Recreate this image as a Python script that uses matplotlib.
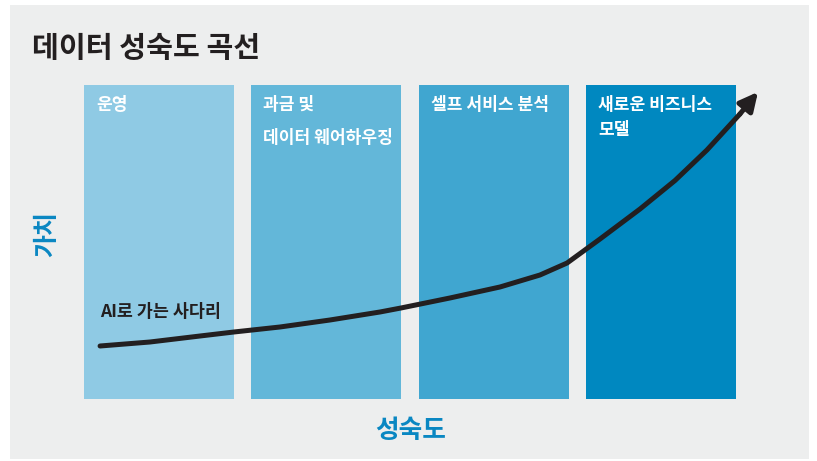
import matplotlib
matplotlib.use("Agg")
import matplotlib.pyplot as plt
from matplotlib.patches import Rectangle

plt.rcParams['font.family'] = ['Noto Sans CJK KR', 'DejaVu Sans']

# ---- data ----
title = "데이터 성숙도 곡선"
stage_lines = [["운영"], ["과금 및", "데이터 웨어하우징"], ["셀프 서비스 분석"], ["새로운 비즈니스", "모델"]]
stage_colors = ["#8fcae4", "#63b7d9", "#40a6d0", "#0088c0"]
# maturity (x, stage units) and value (y) along the curve
curve_x = [0.096, 0.394, 0.693, 0.896, 1.171, 1.470, 1.769, 1.894, 2.187,
           2.486, 2.725, 2.887, 3.084, 3.323, 3.532, 3.723, 3.920]
curve_y = [1.688, 1.815, 2.006, 2.134, 2.293, 2.516, 2.771, 2.898, 3.217,
           3.567, 3.949, 4.331, 5.096, 6.051, 6.959, 7.930, 9.076]
arrow_tip = (4.028, 9.78)
curve_label = "AI로 가는 사다리"
xlabel = "성숙도"
ylabel = "가치"

BLUE = "#0a87c2"
BG = "#edeeee"

fig = plt.figure(figsize=(8.17, 4.61), dpi=100)
fig.patch.set_facecolor("white")
ax = fig.add_axes([0, 0, 1, 1])
ax.set_axis_off()
sx, sy = 167.33, 31.4
ax.set_xlim(-84 / sx, (817 - 84) / sx)
ax.set_ylim((399 - 461) / sy, 399 / sy)

# gray panel
ax.add_patch(Rectangle((-74 / sx, (399 - 459) / sy), 799 / sx, 454 / sy,
                       facecolor=BG, edgecolor="none", zorder=0))

bar_w = 150 / sx
bar_h = 314 / sy
for i, (lines, col) in enumerate(zip(stage_lines, stage_colors)):
    ax.add_patch(Rectangle((i, 0), bar_w, bar_h, facecolor=col,
                           edgecolor="none", zorder=1))
    spacing = 33 if i == 1 else 25
    for j, ln in enumerate(lines):
        ax.text(i + 12 / sx, (399 - 105 - spacing * j) / sy, ln, color="white",
                fontsize=12.3, fontweight="bold", ha="left", va="center", zorder=3)

ax.plot(curve_x, curve_y, color="#231f20", lw=3.6, solid_capstyle="round",
        solid_joinstyle="round", zorder=4)
ax.annotate("", xy=arrow_tip, xytext=(curve_x[-1], curve_y[-1]),
            arrowprops=dict(arrowstyle="-|>,head_length=1.1,head_width=0.55",
                            color="#231f20", lw=3.6, shrinkA=0, shrinkB=0),
            zorder=5)

ax.text(16 / sx, (399 - 312) / sy, curve_label, color="#231f20",
        fontsize=12.5, fontweight="bold", ha="left", va="center", zorder=3)

ax.text((32 - 84) / sx, (399 - 48) / sy, title, color="#231f20",
        fontsize=21, fontweight="bold", ha="left", va="center")
ax.text((411 - 84) / sx, (399 - 430) / sy, xlabel, color=BLUE,
        fontsize=18.5, fontweight="bold", ha="center", va="center")
ax.text((47 - 84) / sx, (399 - 234) / sy, ylabel, color=BLUE,
        fontsize=18, fontweight="bold", ha="center", va="center", rotation=90)

fig.savefig("out.png", dpi=100, facecolor=fig.get_facecolor())
